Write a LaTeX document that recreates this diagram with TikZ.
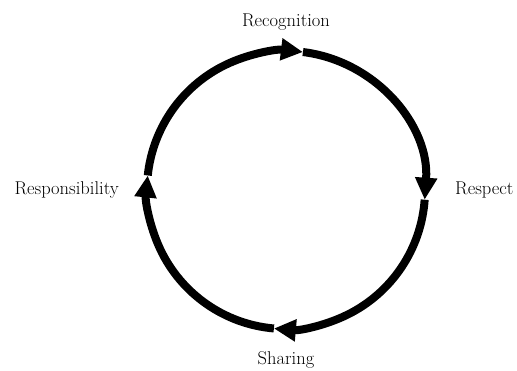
\documentclass[tikz,border=0pt]{standalone}
\usetikzlibrary{arrows.meta,positioning,calc}
\tikzset{
  cycarc/.style={line width=8pt, draw=black, -{Triangle[length=22pt,width=21pt]}},
  lbl/.style={inner sep=0pt, font=\fontsize{18.5}{22}\selectfont},
}
\begin{document}
\begin{tikzpicture}[x=1pt,y=1pt]
  \useasboundingbox (0,0) rectangle (517,370);
  \coordinate (c) at (286,180);
  \coordinate (ctop) at ($(c)+(90:139)$);
  \coordinate (cright) at ($(c)+(0:139)$);
  \coordinate (cbot) at ($(c)+(270:139)$);
  \coordinate (cleft) at ($(c)+(180:139)$);
  % labels
  \node[lbl, above=21pt of ctop] (recog) {Recognition};
  \node[lbl, right=30pt of cright] (respect) {Respect};
  \node[lbl, below=22pt of cbot] (sharing) {Sharing};
  \node[lbl, left=28pt of cleft] (respons) {Responsibility};
  % the four arcs, clockwise
  \coordinate (a1) at ($(c)+(174:139)$);
  \coordinate (a2) at ($(c)+(83:139)$);
  \coordinate (a3) at ($(c)+(-4:139)$);
  \coordinate (a4) at ($(c)+(265:139)$);
  \draw[cycarc] (a1) arc[start angle=174, end angle=83, radius=139];
  \draw[cycarc] (a2) arc[start angle=83, end angle=-4, radius=139];
  \draw[cycarc] (a3) arc[start angle=-4, end angle=-95, radius=139];
  \draw[cycarc] (a4) arc[start angle=265, end angle=174, radius=139];
\end{tikzpicture}
\end{document}
